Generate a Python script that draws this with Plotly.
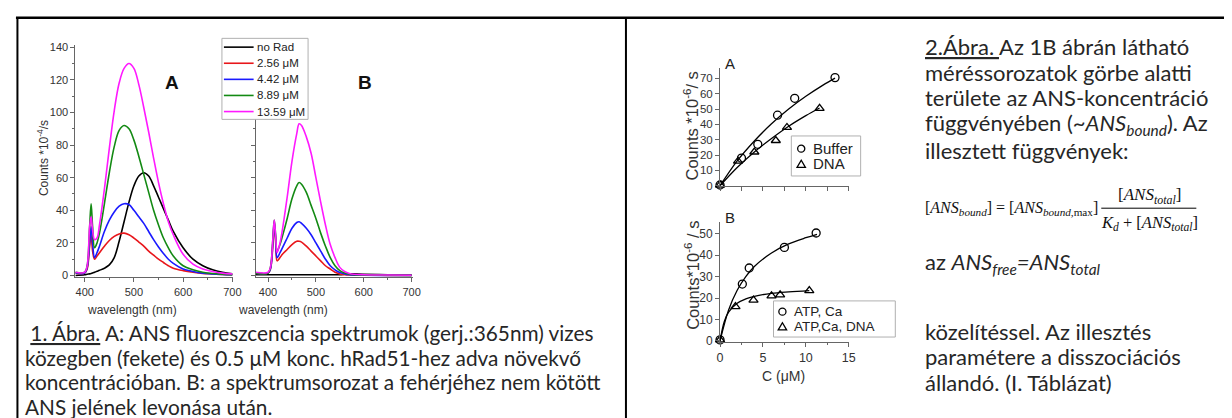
import plotly.graph_objects as go

W, H = 1232, 418

# ---------------- Spectra (panel 1A) ----------------
wl_A = [381, 400, 405, 410, 413, 416, 420, 425, 430, 440, 450, 460, 470, 480, 490, 500,
        510, 520, 530, 540, 550, 560, 570, 580, 600, 620, 640, 660, 680, 700]
A_norad = [0, 0.5, 0.8, 1, 1.2, 1.5, 2, 2.6, 3.2, 4.5, 6.5, 11, 21, 33, 45, 55,
           61, 63, 61, 55, 48, 41, 34, 27, 17, 10, 6, 3.5, 2, 1]
A_256 = [1.5, 1.5, 4, 18, 25, 15, 10, 12, 14, 18, 21.5, 24, 25.5, 26, 25, 23,
         20.5, 18, 15, 12.5, 10, 8, 6, 4.5, 3, 2, 1.3, 1, 0.7, 0.5]
A_442 = [1.5, 1.5, 5, 20, 30, 20, 11, 14, 18, 27, 34, 39, 42.5, 44, 43.5, 40,
         36, 32, 27, 22, 17.5, 13.5, 10, 7.5, 4, 2.5, 1.5, 1, 0.7, 0.5]
A_889 = [2, 2, 6, 30, 44, 30, 17, 20, 26, 44, 63, 79, 89, 92, 90, 83,
         73, 62, 51, 40, 31, 23, 17, 12, 6, 3.5, 2, 1.2, 0.8, 0.5]
A_1359 = [2, 2, 6, 30, 36, 28, 22, 23, 31, 53, 78, 101, 118, 127, 130, 127,
          117, 103, 88, 72, 57, 44, 33, 25, 13, 7, 4, 2.5, 1.5, 1]

# ---------------- Spectra (panel 1B) ----------------
wl_B = [374, 400, 405, 410, 413, 416, 419, 425, 430, 440, 450, 460, 465, 470, 480, 490,
        500, 510, 520, 530, 540, 550, 560, 570, 580, 600, 650, 700]
B_norad = [0.5, 0.5, 0.5, 0.5, 0.5, 0.5, 0.5, 0.5, 0.5, 0.5, 0.5, 0.5, 0.5, 0.5, 0.5, 0.5,
           0.5, 0.5, 0.5, 0.5, 0.5, 0.5, 0.8, 1, 1, 0.8, 0.5, 0.3]
B_256 = [1.5, 1.5, 4, 18, 32, 20, 9, 11, 13, 16, 19, 21, 21, 20.5, 18, 15,
         12, 9, 6, 4, 2, 1, 0.5, 0.3, 0.2, 0.2, 0.1, 0.1]
B_442 = [1.5, 1.5, 4, 20, 33, 22, 11, 14, 17, 23, 29, 32.5, 33, 32, 29, 25,
         20, 15, 10, 6, 3.5, 1.8, 1, 0.5, 0.3, 0.2, 0.1, 0.1]
B_889 = [1.5, 1.5, 5, 22, 34, 24, 15, 19, 24, 35, 47, 55, 57, 56, 51, 43,
         35, 26, 18, 11, 6, 3, 1.5, 0.8, 0.5, 0.3, 0.2, 0.1]
B_1359 = [2, 2, 5, 22, 34, 24, 14, 20, 28, 48, 70, 87, 93, 92, 85, 75,
          60, 45, 31, 19, 11, 5, 2.5, 1.3, 0.8, 0.5, 0.3, 0.2]

spec_names = ["no Rad", "2.56 \u03bcM", "4.42 \u03bcM", "8.89 \u03bcM", "13.59 \u03bcM"]
spec_colors = ["#000000", "#e8161b", "#1a1aff", "#138a13", "#ff19ff"]

# ---------------- Binding curves (panel 2A) ----------------
bufA_x = [0, 2.5, 4.4, 6.7, 8.7, 13.4]
bufA_y = [0.5, 18, 27, 46, 57, 70.5]
dnaA_x = [0, 2.1, 4.0, 6.5, 7.8, 11.6]
dnaA_y = [0.5, 16, 22, 29.5, 38, 50.5]
fitbufA_x = [0, 2, 4, 6, 8, 10, 12, 13.4]
fitbufA_y = [0, 16.2, 29.2, 40.4, 50, 58.3, 65.6, 70.2]
fitdnaA_x = [0, 2, 4, 6, 8, 10, 11.6]
fitdnaA_y = [0, 11.9, 22, 30.8, 38.8, 45.7, 50.7]
legA_names = ["Buffer", "DNA"]

# ---------------- Binding curves (panel 2B) ----------------
atpB_x = [0, 2.6, 3.4, 7.5, 11.2]
atpB_y = [0.5, 26.5, 34, 43.6, 50.3]
dnaB_x = [0, 1.8, 3.9, 6.0, 7.0, 10.4]
dnaB_y = [0.5, 16, 19, 21, 21.5, 23.5]
fitatpB_x = [0, 1, 2, 3, 4, 6, 8, 10, 11.3]
fitatpB_y = [0, 14.4, 23.6, 30, 34.7, 41, 45.2, 48.1, 49.7]
fitdnaB_x = [0, 0.5, 1, 2, 3, 4, 6, 8, 10.4]
fitdnaB_y = [0, 9.1, 13.4, 17.6, 19.6, 20.8, 22.2, 22.9, 23.5]
legB_names = ["ATP, Ca", "ATP,Ca, DNA"]


def px(x):
    return x / W


def py(y):
    return 1 - y / H


fig = go.Figure()

A_series = [A_norad, A_256, A_442, A_889, A_1359]
B_series = [B_norad, B_256, B_442, B_889, B_1359]
for name, col, ys in zip(spec_names, spec_colors, A_series):
    fig.add_trace(go.Scatter(x=wl_A, y=ys, mode="lines", name=name, line=dict(color=col, width=1.6, shape="spline"),
                             xaxis="x", yaxis="y"))
for name, col, ys in zip(spec_names, spec_colors, B_series):
    fig.add_trace(go.Scatter(x=wl_B, y=ys, mode="lines", name=name, line=dict(color=col, width=1.6, shape="spline"),
                             xaxis="x2", yaxis="y2"))

mk = dict(color="black", size=8, line=dict(color="black", width=1.3))
fitline = dict(color="black", width=1.3, shape="spline")
fig.add_trace(go.Scatter(x=fitbufA_x, y=fitbufA_y, mode="lines", line=fitline, xaxis="x3", yaxis="y3"))
fig.add_trace(go.Scatter(x=fitdnaA_x, y=fitdnaA_y, mode="lines", line=fitline, xaxis="x3", yaxis="y3"))
fig.add_trace(go.Scatter(x=bufA_x, y=bufA_y, mode="markers", name=legA_names[0],
                         marker=dict(symbol="circle-open", **mk), xaxis="x3", yaxis="y3", cliponaxis=False))
fig.add_trace(go.Scatter(x=dnaA_x, y=dnaA_y, mode="markers", name=legA_names[1],
                         marker=dict(symbol="triangle-up-open", **mk), xaxis="x3", yaxis="y3", cliponaxis=False))

fig.add_trace(go.Scatter(x=fitatpB_x, y=fitatpB_y, mode="lines", line=fitline, xaxis="x4", yaxis="y4"))
fig.add_trace(go.Scatter(x=fitdnaB_x, y=fitdnaB_y, mode="lines", line=fitline, xaxis="x4", yaxis="y4"))
fig.add_trace(go.Scatter(x=atpB_x, y=atpB_y, mode="markers", name=legB_names[0],
                         marker=dict(symbol="circle-open", **mk), xaxis="x4", yaxis="y4", cliponaxis=False))
fig.add_trace(go.Scatter(x=dnaB_x, y=dnaB_y, mode="markers", name=legB_names[1],
                         marker=dict(symbol="triangle-up-open", **mk), xaxis="x4", yaxis="y4", cliponaxis=False))

axcol = "#666666"
tickfont = dict(family="Liberation Sans, Arial", size=11, color="#333333")
common = dict(showline=True, linecolor=axcol, linewidth=1, ticks="outside", tickcolor=axcol, ticklen=4,
              showgrid=False, zeroline=False, tickfont=tickfont, mirror=False)
minor_x = dict(tickvals=[450, 550, 650], ticks="outside", ticklen=2, tickcolor=axcol)
minor_y = dict(tickvals=list(range(10, 140, 20)), ticks="outside", ticklen=2, tickcolor=axcol)

ydomA = [py(272), py(34)]
layout_axes = dict(
    xaxis=dict(domain=[px(65), px(224)], range=[381, 701], tickvals=[400, 500, 600, 700], anchor="y",
               minor=minor_x, **common),
    yaxis=dict(domain=ydomA, range=[-1.2, 141.2], tickvals=list(range(0, 141, 20)), anchor="x",
               minor=minor_y, **common),
    xaxis2=dict(domain=[px(247), px(406)], range=[374, 703], tickvals=[400, 500, 600, 700], anchor="y2",
                minor=minor_x, **common),
    yaxis2=dict(domain=ydomA, range=[-1.2, 141.2], tickvals=list(range(0, 141, 20)), anchor="x2",
                showticklabels=False, minor=minor_y, **common),
    xaxis3=dict(domain=[px(716), px(846)], range=[0, 15], tickvals=[0, 5, 10, 15], anchor="y3", showticklabels=False,
                minor=dict(tickvals=[2.5, 7.5, 12.5], ticks="outside", ticklen=4, tickcolor=axcol), **common),
    yaxis3=dict(domain=[py(178), py(57)], range=[0, 77], tickvals=list(range(0, 71, 10)), anchor="x3", **common),
    xaxis4=dict(domain=[px(716), px(846)], range=[0, 15], tickvals=[0, 5, 10, 15], anchor="y4",
                minor=dict(tickvals=[2.5, 7.5, 12.5], ticks="outside", ticklen=2, tickcolor=axcol), **common),
    yaxis4=dict(domain=[py(338), py(215)], range=[-0.45, 55.5], tickvals=list(range(0, 51, 10)), anchor="x4", **common),
)
layout_axes["xaxis4"]["tickfont"] = dict(family="Liberation Sans, Arial", size=12.5, color="#333333")
layout_axes["yaxis4"]["tickfont"] = dict(family="Liberation Sans, Arial", size=12, color="#333333")
layout_axes["yaxis3"]["tickfont"] = dict(family="Liberation Sans, Arial", size=11.5, color="#333333")

fig.update_layout(
    width=W, height=H, margin=dict(l=0, r=0, t=0, b=0), paper_bgcolor="white", plot_bgcolor="rgba(0,0,0,0)",
    showlegend=False,
    **layout_axes,
)

ann = []
shapes = []


def text(x, y, s, size=17, family="Lato", color="#262626", anchor="left", angle=0, vanchor="middle"):
    ann.append(dict(x=px(x), y=py(y), xref="paper", yref="paper", text=s, showarrow=False, xanchor=anchor,
                    yanchor=vanchor, textangle=angle, font=dict(family=family, size=size, color=color)))


def line(x0, y0, x1, y1, color="black", width=1):
    shapes.append(dict(type="line", xref="paper", yref="paper", x0=px(x0), x1=px(x1), y0=py(y0), y1=py(y1),
                       line=dict(color=color, width=width), layer="above"))


def box(x0, y0, x1, y1):
    shapes.append(dict(type="rect", xref="paper", yref="paper", x0=px(x0), x1=px(x1), y0=py(y0), y1=py(y1),
                       line=dict(color="#b0b0b0", width=1), fillcolor="white", layer="above"))


def circ(cx, cy, r=3.6):
    shapes.append(dict(type="circle", xref="paper", yref="paper", x0=px(cx - r), x1=px(cx + r), y0=py(cy - r),
                       y1=py(cy + r), line=dict(color="black", width=1.3), layer="above"))


def tri(cx, cy, s=8.5):
    h = s * 0.866
    p = "M %f,%f L %f,%f L %f,%f Z" % (px(cx - s / 2), py(cy + h / 2), px(cx + s / 2), py(cy + h / 2),
                                       px(cx), py(cy - h / 2))
    shapes.append(dict(type="path", xref="paper", yref="paper", path=p, line=dict(color="black", width=1.3),
                       layer="above"))


sans = "Liberation Sans, Arial"

# spectra legend
box(213, 27, 300, 110)
for i, (nm, col) in enumerate(zip(spec_names, spec_colors)):
    yy = 36 + 16.5 * i
    line(215, yy, 245, yy, color=col, width=1.6)
    text(246, yy, nm, size=11.5, family=sans, color="#222222")

# binding A legend
box(788, 127, 858, 168)
circ(798, 140)
text(808, 140, legA_names[0], size=15, family=sans, color="#222222")
tri(798, 155.5)
text(808, 155.5, legA_names[1], size=15, family=sans, color="#222222")

# binding B legend
box(770, 296, 893, 333)
circ(779, 307)
text(789, 307, legB_names[0], size=13.5, family=sans, color="#222222")
tri(779, 322)
text(789, 322, legB_names[1], size=13.5, family=sans, color="#222222")

# spectra labels
text(163, 72, "<b>A</b>", size=19, family=sans, color="#111111", anchor="center")
text(357, 72, "<b>B</b>", size=19, family=sans, color="#111111", anchor="center")
text(33, 150, "Counts *10<sup>-4</sup>/s", size=12, family=sans, color="#333333", anchor="center", angle=-90)
text(122, 305, "wavelength (nm)", size=12, family=sans, color="#333333", anchor="center")
text(275, 305, "wavelength (nm)", size=12, family=sans, color="#333333", anchor="center")

# binding panels labels
text(726, 53, "A", size=15, family=sans, color="#222222", anchor="center")
text(726, 211, "B", size=15, family=sans, color="#222222", anchor="center")
text(687, 117, "Counts *10<sup>-6</sup>/ s", size=16.5, family=sans, color="#333333", anchor="center", angle=-90)
text(687, 270, "Counts*10<sup>-6</sup> / s", size=16.5, family=sans, color="#333333", anchor="center", angle=-90)
text(780, 373, "C (\u03bcM)", size=14, family=sans, color="#333333", anchor="center")

# left caption
cap = [
    " <u>1. Ábra.</u> A: ANS fluoreszcencia spektrumok (gerj.:365nm) vizes",
    "közegben (fekete) és 0.5 \u03bcM konc. hRad51-hez adva növekvő",
    "koncentrációban. B: a spektrumsorozat a fehérjéhez nem kötött",
    "ANS jelének levonása után.",
]
for i, s in enumerate(cap):
    text(12, 328 + 25.5 * i, s, size=20.8)

# right caption
rc = [
    (35, "<u>2.Ábra. </u>Az 1B ábrán látható"),
    (62, "méréssorozatok görbe alatti"),
    (88, "területe az ANS-koncentráció"),
    (115, "függvényében (~<i>ANS<sub>bound</sub></i>). Az"),
    (142, "illesztett függvények:"),
    (257, "az <i>ANS<sub>free</sub>=ANS<sub>total</sub></i>"),
    (327, "közelítéssel. Az illesztés"),
    (353, "paramétere a disszociációs"),
    (380, "állandó. (I. Táblázat)"),
]
for y, s in rc:
    text(921, y, s, size=22)

serif = "Liberation Serif, Times New Roman"
text(921, 201, "[<i>ANS<sub>bound</sub></i>] = [<i>ANS<sub>bound,</sub></i><sub>max</sub>]", size=16, family=serif,
     color="#111111")
text(1150, 188, "[<i>ANS<sub>total</sub></i>]", size=17, family=serif, color="#111111", anchor="center")
text(1150, 216, "<i>K<sub>d</sub></i> + [<i>ANS<sub>total</sub></i>]", size=16.5, family=serif, color="#111111",
     anchor="center")

# document frame
line(5, 6, W, 6, width=2.5)
line(6.5, 6, 6.5, H, width=2)
line(621, 6, 621, H, width=2)
line(1101, 201, 1197, 201, width=1)

fig.update_layout(annotations=ann, shapes=shapes)

fig.write_html("out.html")
